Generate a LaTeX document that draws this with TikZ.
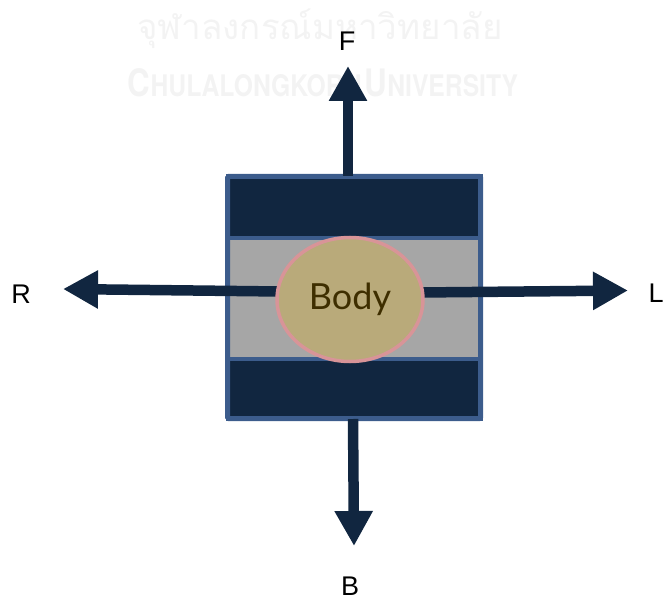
\documentclass[tikz,border=0pt]{standalone}
\usepackage{fontspec}
\setmainfont{Liberation Sans}
\newfontfamily\bodyfont{Lato}
\newfontfamily\thaifont[Script=Thai]{Loma}
\newfontfamily\wmfont{TeX Gyre Heros}
\usetikzlibrary{arrows.meta,shapes.geometric}
\definecolor{navy}{RGB}{17,38,64}
\definecolor{edgeblue}{RGB}{60,92,140}
\definecolor{midgray}{RGB}{166,166,166}
\definecolor{bodyfill}{RGB}{185,170,122}
\definecolor{bodyedge}{RGB}{216,148,152}
\definecolor{bodytext}{RGB}{62,46,0}
\definecolor{wmgray}{RGB}{243,243,243}
\begin{document}
\begin{tikzpicture}[x=1pt,y=-1pt,
  band/.style={draw=edgeblue,line width=4pt,inner sep=0pt,outer sep=0pt,anchor=north west,minimum width=253pt},
  force/.style={draw=navy,line width=10.5pt,-{Triangle[width=36pt,length=35pt]},fill=navy},
  lbl/.style={font=\fontsize{27}{27}\selectfont,inner sep=0pt,text=black},
  wm/.style={text=wmgray,inner sep=0pt}]
\useasboundingbox (0,0) rectangle (663,601);
% watermark
\node[wm] (wmthai) at (320,29) {\resizebox{365pt}{!}{\thaifont จุฬาลงกรณ์มหาวิทยาลัย}};
\node[wm] (wmeng) at (323,83) {\resizebox{390pt}{28pt}{\wmfont\bfseries{\fontsize{28}{28}\selectfont C}{\fontsize{22}{22}\selectfont HULALONGKORN} {\fontsize{28}{28}\selectfont U}{\fontsize{22}{22}\selectfont NIVERSITY}}};
% box
\node[band,fill=navy,minimum height=61.5pt] (topband) at (227.5,176.5) {};
\node[band,fill=midgray,minimum height=120.5pt] (midband) at (227.5,238) {};
\node[band,fill=navy,minimum height=60pt] (botband) at (227.5,358.5) {};
\draw[edgeblue,line width=5pt,rounded corners=1.5pt] (topband.north west) rectangle (botband.south east);
% arrow end points
\coordinate (fs) at (348,176);
\coordinate (ft) at (348,66);
\coordinate (bs) at (353,419);
\coordinate (bt) at (354,546);
\coordinate (rs) at (280,291.5);
\coordinate (rt) at (63,289);
\coordinate (ls) at (420,292.5);
\coordinate (lt) at (628,290.5);
\draw[force] (fs) -- (ft);
\draw[force] (bs) -- (bt);
\draw[force] (rs) -- (rt);
\draw[force] (ls) -- (lt);
% body
\node[ellipse,draw=bodyedge,fill=bodyfill,line width=3.5pt,minimum width=146pt,minimum height=124pt,inner sep=0pt,
  text=bodytext,font=\bodyfont\fontsize{36}{36}\selectfont] (body) at (350,299.5) {Body};
% labels
\node[lbl] (F) at (347,41) {F};
\node[lbl] (R) at (21,294.5) {R};
\node[lbl] (L) at (656,293.5) {L};
\node[lbl] (B) at (350,586) {B};
\end{tikzpicture}
\end{document}
